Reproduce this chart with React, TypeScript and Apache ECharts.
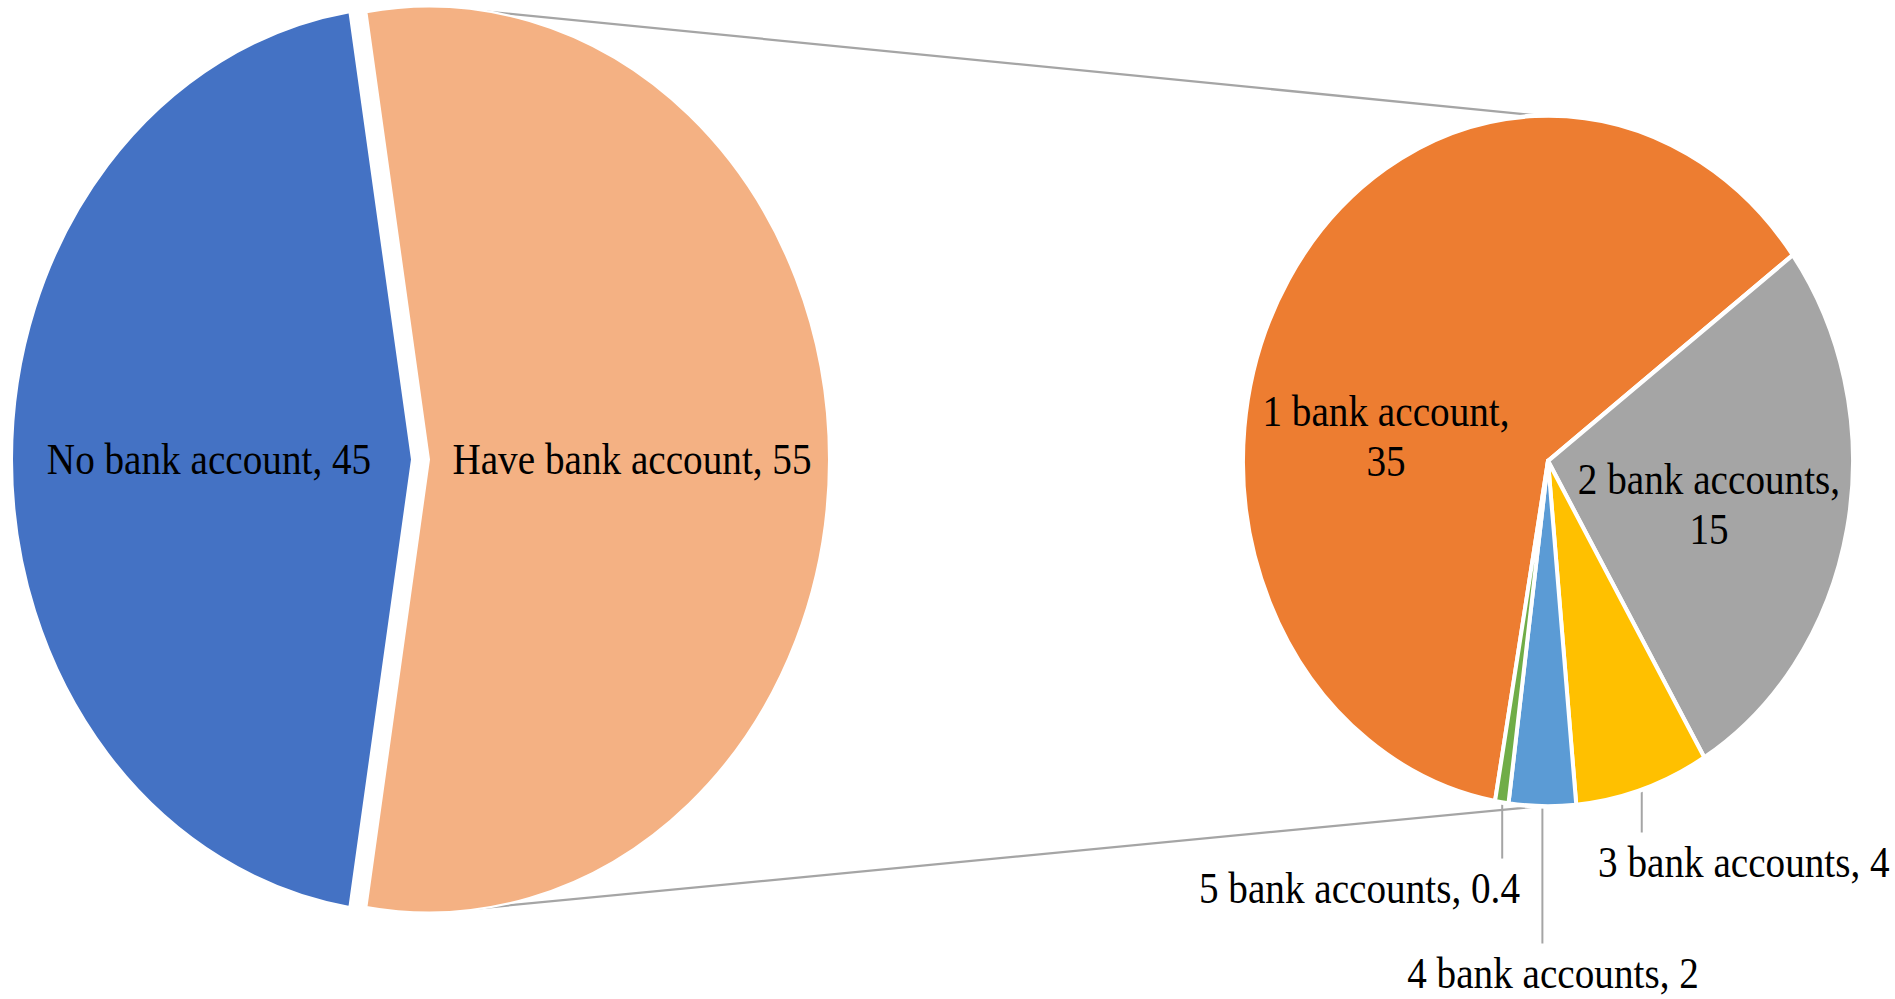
import React, { useEffect, useRef } from 'react';
import * as echarts from 'echarts';

// ---- data ----
const mainNames = ['Have bank account', 'No bank account'];
const mainValues = [55, 45];
const mainColors = ['#F4B183', '#4472C4'];

const subNames = ['1 bank account', '2 bank accounts', '3 bank accounts', '4 bank accounts', '5 bank accounts'];
const subValues = [35, 15, 4, 2, 0.4];
const subColors = ['#ED7D31', '#A5A5A5', '#FFC000', '#5B9BD5', '#70AD47'];

// ---- layout ----
const W = 1895;
const H = 882;
const STRETCH = 999 / H;
const FONT = 'Liberation Serif, "Times New Roman", serif';
const FS = 39.2;

const LP = { cx: 412, cy: 405.7, r: 400, vis: 399, explode: 17, start: 99 };
const RP = { cx: 1548, cy: 407, r: 305, vis: 303, start: 260 };

const subLabelPos: { x: number; y: number; align: string }[] = [
  { x: 1386, y: 385, align: 'center' },
  { x: 1709, y: 445, align: 'center' },
  { x: 1598, y: 761, align: 'left' },
  { x: 1553, y: 859, align: 'center' },
  { x: 1520, y: 784, align: 'right' },
];

const subTotal = subValues.reduce((a, b) => a + b, 0);
function subMid(i: number) {
  let cum = 0;
  for (let k = 0; k < i; k++) cum += subValues[k];
  const deg = RP.start - ((cum + subValues[i] / 2) / subTotal) * 360;
  return (deg * Math.PI) / 180;
}

function tangents() {
  const c1x = LP.cx + LP.explode;
  const c1y = LP.cy;
  const dx = RP.cx - c1x;
  const dy = RP.cy - c1y;
  const d = Math.hypot(dx, dy);
  const ux = dx / d;
  const uy = dy / d;
  const cosT = (LP.vis - RP.vis) / d;
  const sinT = Math.sqrt(1 - cosT * cosT);
  const res: number[][] = [];
  for (const s of [-1, 1]) {
    const nx = ux * cosT - uy * s * sinT;
    const ny = ux * s * sinT + uy * cosT;
    res.push([c1x + LP.vis * nx, c1y + LP.vis * ny, RP.cx + RP.vis * nx, RP.cy + RP.vis * ny]);
  }
  return res;
}

export default function App() {
  const ref = useRef<HTMLDivElement>(null);
  useEffect(() => {
    document.body.style.overflow = 'hidden';
    const chart = echarts.init(ref.current!, null, { renderer: 'svg' });
    const tl = tangents();
    const option: any = {
      animation: false,
      backgroundColor: '#ffffff',
      graphic: tl.map((t) => ({
        type: 'line',
        shape: { x1: t[0], y1: t[1], x2: t[2], y2: t[3] },
        style: { stroke: '#A5A5A5', lineWidth: 2 },
        silent: true,
        z: 0,
      })),
      series: [
        {
          type: 'pie',
          center: [LP.cx, LP.cy],
          radius: LP.r,
          startAngle: LP.start,
          clockwise: true,
          selectedMode: 'single',
          selectedOffset: LP.explode,
          avoidLabelOverlap: false,
          silent: true,
          z: 2,
          itemStyle: { borderColor: '#ffffff', borderWidth: 2 },
          select: { itemStyle: { borderColor: '#ffffff', borderWidth: 2 } },
          emphasis: { disabled: true },
          label: {
            show: true,
            position: 'inside',
            formatter: '{b}, {c}',
            fontFamily: FONT,
            fontSize: FS,
            color: '#000000',
          },
          labelLine: { show: false },
          data: mainNames.map((n, i) => ({
            name: n,
            value: mainValues[i],
            selected: i === 0,
            itemStyle: { color: mainColors[i] },
          })),
        },
        {
          type: 'pie',
          center: [RP.cx, RP.cy],
          radius: RP.r,
          startAngle: RP.start,
          clockwise: true,
          avoidLabelOverlap: false,
          silent: true,
          z: 2,
          itemStyle: { borderColor: '#ffffff', borderWidth: 4 },
          emphasis: { disabled: true },
          label: {
            show: true,
            position: 'outside',
            fontFamily: FONT,
            fontSize: FS,
            lineHeight: 44,
            color: '#000000',
            formatter: (p: any) =>
              p.dataIndex < 2 ? `${p.name},\n${p.value}` : `${p.name}, ${p.value}`,
          },
          labelLine: { show: true, lineStyle: { color: '#A5A5A5', width: 2 } },
          labelLayout: (p: any) => {
            const i = p.dataIndex;
            const pos = subLabelPos[i];
            const out: any = { x: pos.x, y: pos.y, align: pos.align, verticalAlign: 'middle' };
            if (i >= 2) {
              const a = subMid(i);
              const ex = RP.cx + (RP.vis - 1) * Math.cos(a);
              const ey = RP.cy - (RP.vis - 1) * Math.sin(a);
              const yEnd = pos.y - 26;
              out.labelLinePoints = [
                [ex, ey],
                [ex, yEnd],
                [ex, yEnd],
              ];
            }
            return out;
          },
          data: subNames.map((n, i) => ({
            name: n,
            value: subValues[i],
            itemStyle: { color: subColors[i] },
            label: i < 2 ? { position: 'inside' } : undefined,
            labelLine: i < 2 ? { show: false } : undefined,
          })),
        },
      ],
    };
    chart.setOption(option);
    return () => {
      chart.dispose();
    };
  }, []);
  return (
    <div
      ref={ref}
      style={{
        position: 'absolute',
        left: 0,
        top: 0,
        width: W,
        height: H,
        transform: `scaleY(${STRETCH})`,
        transformOrigin: '0 0',
      }}
    />
  );
}
